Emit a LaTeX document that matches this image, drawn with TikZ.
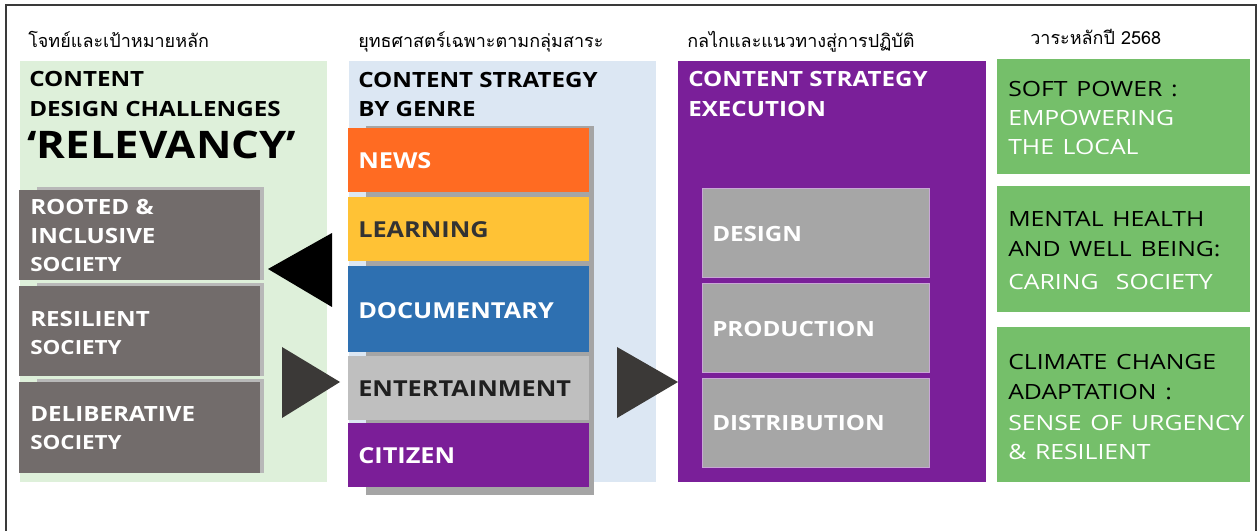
\documentclass[tikz,border=0pt]{standalone}
\usepackage{fontspec}
\setmainfont{Open Sans}[FakeStretch=1.15]
\newfontfamily\themefont{Open Sans}[FakeStretch=1.18, WordSpace=1.35]
\newfontfamily\thaifont[Script=Thai]{Loma}
\newlength\pxu
\setlength\pxu{0.75pt}
\newcommand\fs[1]{\fontsize{#1\pxu}{1.2\dimexpr#1\pxu\relax}\selectfont}

\definecolor{panelgreen}{HTML}{DEF0DA}
\definecolor{panelblue}{HTML}{DCE7F3}
\definecolor{goalgrey}{HTML}{726C6B}
\definecolor{goalshade}{HTML}{B8B8B8}
\definecolor{shadegrey}{HTML}{A5A5A5}
\definecolor{newsorange}{HTML}{FF6B22}
\definecolor{learnyellow}{HTML}{FFC235}
\definecolor{docblue}{HTML}{2E70B1}
\definecolor{entgrey}{HTML}{BFBFBF}
\definecolor{citpurple}{HTML}{7B1E98}
\definecolor{execpurple}{HTML}{7A1F99}
\definecolor{stepgrey}{HTML}{A6A6A6}
\definecolor{stepedge}{HTML}{C9A6D6}
\definecolor{themegreen}{HTML}{75BF6A}
\definecolor{arrowdark}{HTML}{3B3937}
\definecolor{textdark}{HTML}{333333}
\definecolor{framegrey}{HTML}{3A3A3A}

\tikzset{
  panel/.style={draw=none, inner sep=0pt, anchor=north west},
  stepbox/.style={panel, fill=stepgrey, draw=stepedge, line width=0.8\pxu,
                  minimum width=227\pxu, minimum height=89\pxu},
  thailabel/.style={anchor=base west, inner sep=0pt, font=\thaifont\fs{18}},
  heading/.style={anchor=base west, inner sep=0pt, font=\bfseries\fs{21}},
  genretext/.style={anchor=base west, inner sep=0pt, font=\bfseries\fs{22}},
  goaltext/.style={anchor=base west, inner sep=0pt, font=\bfseries\fs{21}, text=white},
  goalsmall/.style={anchor=base west, inner sep=0pt, font=\bfseries\fs{19.5}, text=white},
  steptext/.style={anchor=base west, inner sep=0pt, font=\bfseries\fs{21}, text=white},
  themetext/.style={anchor=base west, inner sep=0pt, font=\themefont\fs{21}},
  flowarrow/.style={fill=arrowdark, draw=none},
}
% rectangle node given its top-left corner, width and height in px
\newcommand\boxat[6]{%
  \node[panel, fill=#2, minimum width=#5\pxu, minimum height=#6\pxu] (#1) at (#3,#4) {};}
% genre box with a grey drop shadow below and to the right
\newcommand\shadowbox[6]{%
  \fill[shadegrey] (#3+18,#4-2) rectangle (#3+#5+5,#4+#6+8);
  \boxat{#1}{#2}{#3}{#4}{#5}{#6}}
% goal box with a thin light shadow at its top and right
\newcommand\goalbox[5]{%
  \fill[goalshade] (#2+18,#3-3) rectangle (#2+#4+4,#3+#5);
  \boxat{#1}{goalgrey}{#2}{#3}{#4}{#5}}

\begin{document}
\begin{tikzpicture}[x=\pxu, y=-\pxu]
\useasboundingbox (0,0) rectangle (1258,531);
\fill[white] (0,0) rectangle (1258,531);

% outer frame, open at the bottom
\draw[framegrey, line width=1.6\pxu] (6,531) -- (6,5) -- (1256,5) -- (1256,531);

% ---------- column 1: goals ----------
\node[thailabel] (lbl1) at (28,48) {โจทย์และเป้าหมายหลัก};
\boxat{goalpanel}{panelgreen}{20}{61}{307}{421}
\node[heading] (h1a) at (29,86.7) {CONTENT};
\node[heading] (h1b) at (29,116.7) {DESIGN CHALLENGES};
\node[anchor=base west, inner sep=0pt, font=\bfseries\fs{38}] (rel) at (27,159) {‘RELEVANCY’};

\goalbox{rooted}{19}{190}{241}{90}
\goalbox{resilient}{19}{286}{241}{90}
\goalbox{delib}{19}{382}{241}{91}
\node[goaltext] (t1a) at (30,215) {ROOTED \&};
\node[goaltext] (t1b) at (30,243.3) {INCLUSIVE};
\node[goalsmall] (t1c) at (30,271.7) {SOCIETY};
\node[goaltext] (t2a) at (30,326.7) {RESILIENT};
\node[goalsmall] (t2b) at (30,354) {SOCIETY};
\node[goaltext] (t3a) at (30,421.7) {DELIBERATIVE};
\node[goalsmall] (t3b) at (30,449.3) {SOCIETY};

% ---------- column 2: genres ----------
\node[thailabel] (lbl2) at (358,48) {ยุทธศาสตร์เฉพาะตามกลุ่มสาระ};
\boxat{genrepanel}{panelblue}{349}{61}{307}{421}
\node[heading] (h2a) at (358,88) {CONTENT STRATEGY};
\node[heading] (h2b) at (358,117) {BY GENRE};

\shadowbox{news}{newsorange}{348}{128}{241}{64}
\shadowbox{learning}{learnyellow}{348}{197}{241}{64}
\shadowbox{docu}{docblue}{348}{266}{241}{86}
\shadowbox{ent}{entgrey}{348}{356}{241}{64}
\shadowbox{citizen}{citpurple}{348}{423}{241}{64}
\node[genretext, text=white] (g1) at (358,168.3) {NEWS};
\node[genretext, text=textdark] (g2) at (358,237.3) {LEARNING};
\node[genretext, text=white] (g3) at (358,318.3) {DOCUMENTARY};
\node[genretext, text=black!88] (g4) at (358,396) {ENTERTAINMENT};
\node[genretext, text=white] (g5) at (358,463.3) {CITIZEN};

% ---------- column 3: execution ----------
\node[thailabel] (lbl3) at (687,48) {กลไกและแนวทางสู่การปฏิบัติ};
\boxat{execpanel}{execpurple}{678}{61}{308}{421}
\node[heading, text=white] (h3a) at (688,86.7) {CONTENT STRATEGY};
\node[heading, text=white] (h3b) at (688,116.7) {EXECUTION};
\node[stepbox] (design) at (702,188) {};
\node[stepbox] (production) at (702,283) {};
\node[stepbox] (distribution) at (702,378) {};
\node[steptext] (s1) at (712,241.7) {DESIGN};
\node[steptext] (s2) at (712,336) {PRODUCTION};
\node[steptext] (s3) at (712,431) {DISTRIBUTION};

% ---------- column 4: themes ----------
\node[thailabel] (lbl4) at (1030,45) {วาระหลักปี 2568};
\boxat{soft}{themegreen}{997}{59}{253}{115}
\boxat{mental}{themegreen}{997}{186}{253}{126}
\boxat{climate}{themegreen}{997}{327}{253}{155}
\node[themetext] (m1a) at (1008,96.7) {SOFT POWER :};
\node[themetext, text=white] (m1b) at (1008,126) {EMPOWERING};
\node[themetext, text=white] (m1c) at (1008,155) {THE LOCAL};
\node[themetext] (m2a) at (1008,226.7) {MENTAL HEALTH};
\node[themetext] (m2b) at (1008,256.7) {AND WELL BEING:};
\node[themetext, text=white] (m2c) at (1008,290) {CARING\ \ SOCIETY};
\node[themetext] (m3a) at (1008,369) {CLIMATE CHANGE};
\node[themetext] (m3b) at (1008,399) {ADAPTATION :};
\node[themetext, text=white] (m3c) at (1008,430) {SENSE OF URGENCY};
\node[themetext, text=white] (m3d) at (1008,459.3) {\& RESILIENT};

% ---------- flow triangles ----------
\fill[black] (268,269) -- (332,233) -- (332,307) -- cycle;
\fill[flowarrow] (282,347) -- (340,382) -- (282,418) -- cycle;
\fill[flowarrow] (617,347) -- (678,382) -- (617,418) -- cycle;
\end{tikzpicture}
\end{document}
